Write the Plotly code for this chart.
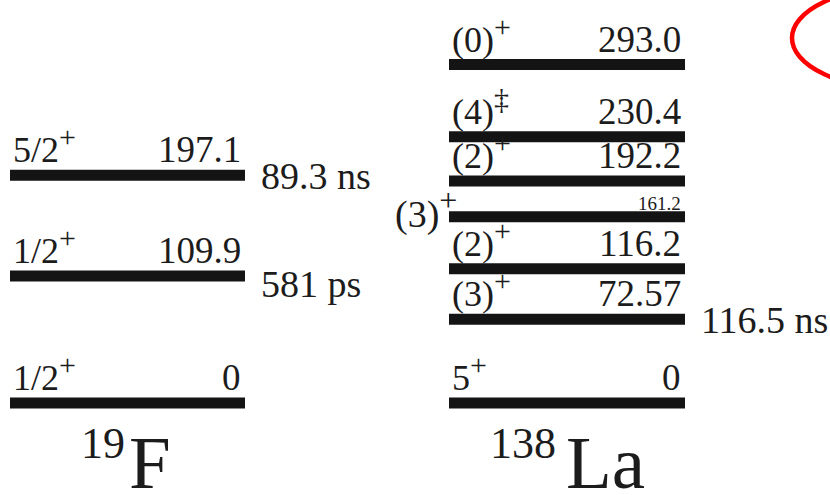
import plotly.graph_objects as go

# ---- level scheme data -------------------------------------------------
f_energy_labels = ["0", "109.9", "197.1"]
f_spins = ["1/2", "1/2", "5/2"]
f_parities = ["+", "+", "+"]
f_lifetimes = ["", "581 ps", "89.3 ns"]

la_energy_labels = ["0", "72.57", "116.2", "161.2", "192.2", "230.4", "293.0"]
la_spins = ["5", "(3)", "(2)", "(3)", "(2)", "(4)", "(0)"]
la_parities = ["+", "+", "+", "+", "+", "‡", "+"]
la_lifetimes = ["", "116.5 ns", "", "", "", "", ""]

f_energies = [float(s) for s in f_energy_labels]
la_energies = [float(s) for s in la_energy_labels]

# ---- figure geometry -----------------------------------------------------
W, H = 830, 495
FONT = "Liberation Serif"
INK = "#1c1c1c"
BAR_W = 11
KEV_PX = 1.1553          # vertical scale (pixels per keV)
ZERO_PX = 403            # pixel row of the ground state
y_lo = -(H - ZERO_PX) / KEV_PX
y_hi = ZERO_PX / KEV_PX

columns = [
    dict(x0=10, x1=245, energies=f_energies, labels=f_energy_labels,
         spins=f_spins, parities=f_parities, lifetimes=f_lifetimes),
    dict(x0=449, x1=685, energies=la_energies, labels=la_energy_labels,
         spins=la_spins, parities=la_parities, lifetimes=la_lifetimes),
]

fig = go.Figure()
ann = []


def paper_y(py):
    return 1 - py / H


def jpi(spin, parity, sup_px):
    return f"{spin}<sup><span style='font-size:{sup_px}px'>{parity}</span></sup>"


for col in columns:
    xs, ys = [], []
    for e in col["energies"]:
        xs += [col["x0"], col["x1"], None]
        ys += [e, e, None]
    fig.add_trace(go.Scatter(x=xs, y=ys, mode="lines",
                             line=dict(color="#141414", width=BAR_W),
                             hoverinfo="skip", showlegend=False))

    for e, lab, spin, par, life in zip(col["energies"], col["labels"],
                                        col["spins"], col["parities"],
                                        col["lifetimes"]):
        squeezed = lab == "161.2"
        # energy label, right aligned above the level
        ann.append(dict(x=col["x1"] - 2, y=e, text=lab, xanchor="right",
                        yanchor="bottom", yshift=1 if squeezed else 3,
                        showarrow=False,
                        font=dict(family=FONT, size=19 if squeezed else 37,
                                  color=INK)))
        # spin-parity label
        if squeezed:
            ann.append(dict(x=col["x0"] + 10, y=e, text=jpi(spin, par, 32),
                            xanchor="right", yanchor="middle", yshift=8,
                            showarrow=False,
                            font=dict(family=FONT, size=38, color=INK)))
        else:
            ann.append(dict(x=col["x0"] + 1, y=e, text=jpi(spin, par, 30),
                            xanchor="left", yanchor="bottom", yshift=3,
                            showarrow=False,
                            font=dict(family=FONT, size=36, color=INK)))
        # half-life to the right of the level
        if life:
            shift = -8 if life.endswith("ps") else -1
            ann.append(dict(x=col["x1"] + 14, y=e, text=life, xanchor="left",
                            yanchor="middle", yshift=shift, showarrow=False,
                            font=dict(family=FONT, size=38, color=INK)))

# nuclide names under each column
for mass, sym, xm, xs in [("19", "F", 79, 127), ("138", "La", 488, 564)]:
    ann.append(dict(x=xm, y=paper_y(470), yref="paper", text=mass,
                    xanchor="left", yanchor="bottom", showarrow=False,
                    font=dict(family=FONT, size=44, color=INK)))
    ann.append(dict(x=xs, y=paper_y(506), yref="paper", text=sym,
                    xanchor="left", yanchor="bottom", showarrow=False,
                    font=dict(family=FONT, size=75, color=INK)))

fig.update_layout(
    width=W, height=H,
    margin=dict(l=0, r=0, t=0, b=0),
    paper_bgcolor="white", plot_bgcolor="white",
    xaxis=dict(range=[0, W], visible=False, fixedrange=True),
    yaxis=dict(range=[y_lo, y_hi], visible=False, fixedrange=True),
    annotations=ann,
    shapes=[dict(type="circle", xref="x", yref="paper",
                 x0=792, x1=1010, y0=paper_y(89), y1=paper_y(-13),
                 line=dict(color="#ff0000", width=4.5))],
)

fig.write_html("out.html")
